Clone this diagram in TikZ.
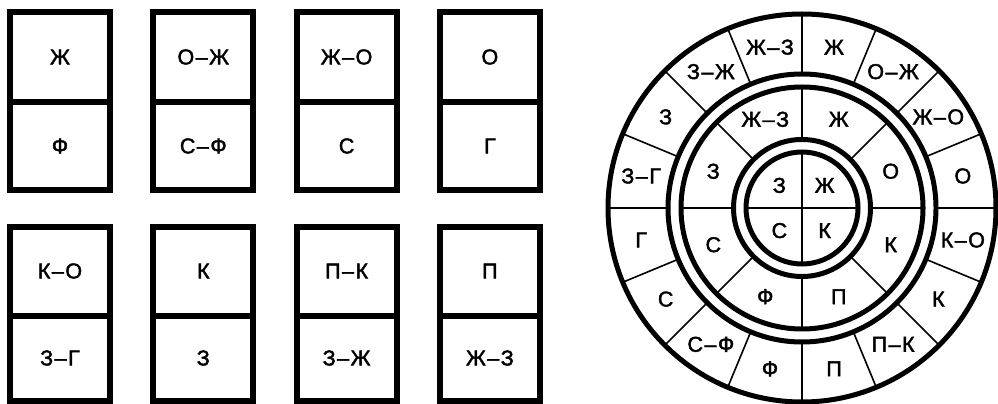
\documentclass[tikz,border=0pt]{standalone}
\usepackage{fontspec}
\setmainfont{Liberation Sans}
\newfontfamily\lblfont{Liberation Sans}[FakeBold=2]
\newcommand\dd{\kern1.5pt–\kern1.5pt}
\begin{document}
\begin{tikzpicture}[x=1pt,y=1pt,
  card/.style={line width=5.8pt},
  ring/.style={line width=5pt},
  spoke/.style={line width=1.6pt},
  lbl/.style={font=\lblfont\fontsize{21.5}{26}\selectfont,inner sep=0pt}]
  \useasboundingbox (0,0) rectangle (998,404);

  % ---- cards, upper row ----
  \foreach \tp/\bt [count=\n from 0] in {Ж/Ф,О\dd Ж/С\dd Ф,Ж\dd О/С,О/Г} {
    \draw[card] ({10+143.3*\n},214) rectangle ++(100,178);
    \draw[card] ({10+143.3*\n},302) -- ++(100,0);
    \node[lbl] (ua\n) at ({60+143.3*\n},347) {\tp};
    \node[lbl] (ub\n) at ({60+143.3*\n},258) {\bt};
  }

  % ---- cards, lower row ----
  \foreach \tp/\bt [count=\n from 0] in {К\dd О/З\dd Г,К/З,П\dd К/З\dd Ж,П/Ж\dd З} {
    \draw[card] ({10+143.3*\n},3) rectangle ++(100,174);
    \draw[card] ({10+143.3*\n},88) -- ++(100,0);
    \node[lbl] (la\n) at ({60+143.3*\n},133) {\tp};
    \node[lbl] (lb\n) at ({60+143.3*\n},46) {\bt};
  }

  % ---- wheel ----
  \begin{scope}[shift={(802,196)}]
    % rings
    \draw[ring] (0,0) circle (194);
    \draw[ring] (0,0) circle (134);
    \draw[ring] (0,0) circle (121);
    \draw[ring] (0,0) circle (68.5);
    \draw[ring] (0,0) circle (56);
    % spokes
    \foreach \a in {0,22.5,...,337.5} \draw[spoke] (\a:134) -- (\a:194);
    \foreach \a in {0,45,...,315} \draw[spoke] (\a:121) -- (\a:68.5);
    \foreach \a in {0,90,...,270} \draw[spoke] (0,0) -- (\a:56);
    % outer ring
    \foreach \t [count=\k from 0] in {Ж,О\dd Ж,Ж\dd О,О,К\dd О,К,П\dd К,П,Ф,С\dd Ф,С,Г,З\dd Г,З,З\dd Ж,Ж\dd З}
      \node[lbl] (o\k) at ({78.75-22.5*\k}:164) {\t};
    % middle ring
    \foreach \t [count=\k from 0] in {Ж,О,К,П,Ф,С,З,Ж\dd З}
      \node[lbl] (m\k) at ({67.5-45*\k}:96) {\t};
    % centre
    \foreach \t [count=\k from 0] in {Ж,К,С,З}
      \node[lbl] (c\k) at ({45-90*\k}:32) {\t};
  \end{scope}
\end{tikzpicture}
\end{document}
